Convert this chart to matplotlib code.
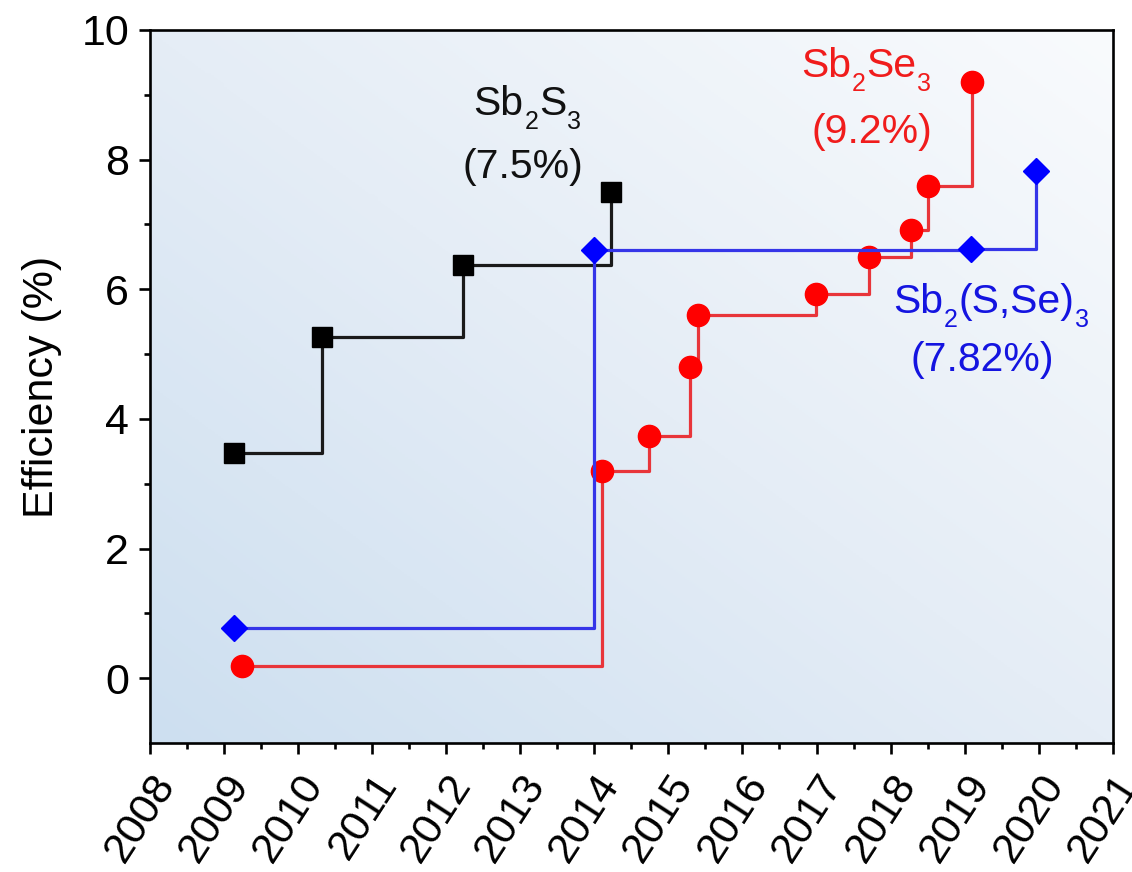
import matplotlib
matplotlib.use("Agg")
import matplotlib.pyplot as plt
import numpy as np
from matplotlib.colors import LinearSegmentedColormap

plt.rcParams["font.family"] = ["Liberation Sans", "DejaVu Sans"]

# ---------- data: record efficiencies by year ----------
sbs_year = [2009.14, 2010.32, 2012.22, 2014.23]
sbs_eff = [3.47, 5.27, 6.38, 7.50]

sbsse_year = [2009.13, 2014.00, 2019.08, 2019.97]
sbsse_eff = [0.78, 6.60, 6.62, 7.82]

sbse_year = [2009.24, 2014.11, 2014.74, 2015.29, 2015.40,
             2016.99, 2017.71, 2018.28, 2018.51, 2019.10]
sbse_eff = [0.18, 3.20, 3.73, 4.80, 5.60, 5.92, 6.50, 6.91, 7.60, 9.20]

YEAR_TICKS = list(range(2008, 2022))

C_BLACK = "#111111"
C_RED = "#f01c1c"
C_BLUE = "#1414e0"

# ---------- figure ----------
fig = plt.figure(figsize=(11.32, 8.72), dpi=100)
ax = fig.add_axes([0.1325, 0.148, 0.8505, 0.8176])

# soft blue gradient background (bottom-left -> top-right)
gx, gy = np.meshgrid(np.linspace(0, 1, 300), np.linspace(0, 1, 300))
grad = (gx + gy) / 2.0
cmap_bg = LinearSegmentedColormap.from_list(
    "bg", ["#cddff0", "#e5edf6", "#f9fbfd"])
ax.imshow(grad, cmap=cmap_bg, extent=[0, 1, 0, 1], origin="lower",
          transform=ax.transAxes, aspect="auto", zorder=0)

lw = 2.3
ax.plot(sbs_year, sbs_eff, drawstyle="steps-post", color="#1a1a1a",
        lw=lw, zorder=3)
ax.plot(sbs_year, sbs_eff, ls="none", marker="s", ms=14.5,
        color="black", zorder=4)

ax.plot(sbse_year, sbse_eff, drawstyle="steps-post", color="#e8353a",
        lw=lw, zorder=3)
ax.plot(sbse_year, sbse_eff, ls="none", marker="o", ms=16,
        color="#ff0000", zorder=4)

ax.plot(sbsse_year, sbsse_eff, drawstyle="steps-post", color="#3535e8",
        lw=lw, zorder=5)
ax.plot(sbsse_year, sbsse_eff, ls="none", marker="D", ms=13,
        color="#0000ff", zorder=6)


# chemical formula with small, low-hanging subscripts
FS_MAIN = 29.5
FS_SUB = 18
SUB_DROP = 10


def formula(x, y, parts, color):
    first = ax.text(x, y, parts[0][0], color=color, fontsize=FS_MAIN,
                    ha="left", va="baseline", zorder=7)
    prev = first
    for s, sub in parts[1:]:
        prev = ax.annotate(
            s, xy=(1, y), xycoords=(prev, "data"),
            xytext=(0.5, -SUB_DROP if sub else 0), textcoords="offset points",
            color=color, fontsize=FS_SUB if sub else FS_MAIN,
            ha="left", va="baseline", zorder=7, annotation_clip=False,
        )
    return first


formula(2012.37, 8.69, [("Sb", 0), ("2", 1), ("S", 0), ("3", 1)], C_BLACK)
ax.text(2012.22, 7.72, "(7.5%)", color=C_BLACK, fontsize=FS_MAIN,
        ha="left", va="baseline")

formula(2016.79, 9.28, [("Sb", 0), ("2", 1), ("Se", 0), ("3", 1)], C_RED)
ax.text(2016.93, 8.26, "(9.2%)", color=C_RED, fontsize=FS_MAIN,
        ha="left", va="baseline")

formula(2018.04, 5.63, [("Sb", 0), ("2", 1), ("(S,Se)", 0), ("3", 1)],
        C_BLUE)
ax.text(2018.27, 4.74, "(7.82%)", color=C_BLUE, fontsize=FS_MAIN,
        ha="left", va="baseline")

# ---------- axes ----------
ax.set_xlim(2008, 2021)
ax.set_ylim(-1, 10)
ax.set_xticks(YEAR_TICKS)
ax.set_xticklabels([str(y) for y in YEAR_TICKS], rotation=57,
                   ha="right", va="top", rotation_mode="anchor")
ax.set_xticks(np.arange(2008.5, 2021, 1.0), minor=True)
ax.set_yticks([0, 2, 4, 6, 8, 10])
ax.set_yticks([1, 3, 5, 7, 9], minor=True)
ax.set_ylabel("Efficiency (%)", fontsize=31, labelpad=14)

ax.tick_params(axis="both", which="major", direction="out", length=8,
               width=1.9, labelsize=31, pad=7, top=False, right=False)
ax.tick_params(axis="x", which="major", pad=9)
ax.tick_params(axis="both", which="minor", direction="out", length=4.5,
               width=1.9, top=False, right=False)
for s in ax.spines.values():
    s.set_linewidth(1.9)

fig.savefig("out.png", dpi=100)
